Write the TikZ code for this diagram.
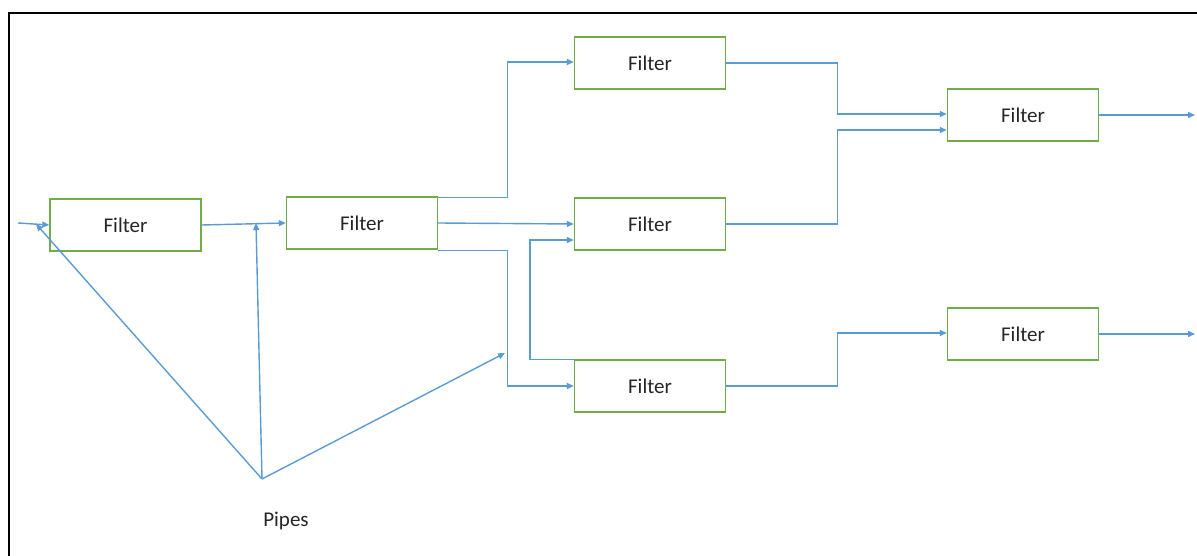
\documentclass[tikz,border=0pt]{standalone}
\usepackage{fontspec}
\setmainfont{Carlito}
\usetikzlibrary{arrows.meta,calc}
\definecolor{pipeblue}{HTML}{5B9BD5}
\definecolor{boxgreen}{HTML}{70AD47}
\tikzset{
  filter/.style={draw=boxgreen,line width=1.4pt,minimum width=151pt,minimum height=52pt,inner sep=0pt,font=\fontsize{21}{24}\selectfont,text=black!85},
  pipe/.style={draw=pipeblue,line width=1.4pt,-{Triangle[length=7pt,width=6pt]}},
  lbl/.style={font=\fontsize{21}{24}\selectfont,text=black!85,inner sep=0pt}
}
\begin{document}
\begin{tikzpicture}[x=1pt,y=-1pt]
\useasboundingbox (0,0) rectangle (1197,556);
\draw[line width=1.6pt] (1210,13) -- (9,13) -- (9,570);
\node[filter] (f1) at (125.5,225) {Filter};
\node[filter] (f2) at (362,223) {Filter};
\node[filter] (f3) at (650,63) {Filter};
\node[filter] (f4) at (650,224) {Filter};
\node[filter] (f5) at (650,386) {Filter};
\node[filter] (f6) at (1023,115) {Filter};
\node[filter] (f7) at (1023,334) {Filter};
\coordinate (in) at (18,223);
\coordinate (o1) at (1195,115);
\coordinate (o2) at (1195,334);
\draw[pipe] (in) -- (f1.west);
\draw[pipe] (f1.east) -- (f2.west);
\draw[pipe] ($(f2.north east)+(0,1)$) -- ++(69,0) |- ($(f3.west)+(0,-1)$);
\draw[pipe] (f2.east) -- (f4.west);
\draw[pipe] ($(f2.south east)+(0,1)$) -- ++(69,0) |- (f5.west);
\draw[pipe] (f5.north west) -- ++(-44,0) |- ($(f4.west)+(0,16)$);
\draw[pipe] (f3.east) -- ++(111,0) |- ($(f6.west)+(0,-1)$);
\draw[pipe] (f4.east) -- ++(111,0) |- ($(f6.west)+(0,15)$);
\draw[pipe] (f5.east) -- ++(111,0) |- ($(f7.west)+(0,-1)$);
\draw[pipe] (f6.east) -- (o1);
\draw[pipe] (f7.east) -- (o2);
\coordinate (p) at (262,479);
\coordinate (a1) at (36,224);
\coordinate (a2) at (256,223);
\coordinate (a3) at (505,353);
\node[lbl] (pipes) at (286,521) {Pipes};
\draw[pipe] (p) -- (a1);
\draw[pipe] (p) -- (a2);
\draw[pipe] (p) -- (a3);
\end{tikzpicture}
\end{document}
